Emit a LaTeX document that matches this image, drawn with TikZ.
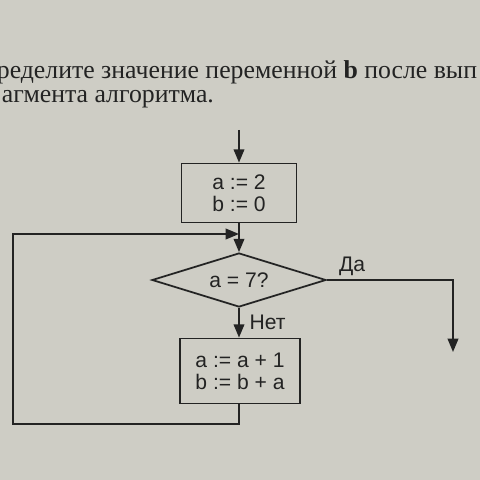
\documentclass[tikz,border=0pt]{standalone}
\usepackage{fontspec}
\setmainfont{Liberation Serif}
\newfontfamily\flowfont{Liberation Sans}
\usetikzlibrary{arrows.meta,shapes.geometric}
\definecolor{paper}{RGB}{206,205,197}
\definecolor{ink}{RGB}{35,35,35}

\begin{document}
\begin{tikzpicture}[x=0.03cm, y=-0.03cm, line width=1.5pt, color=ink,
		box/.style={draw, rectangle, align=center, inner sep=0pt,
			font=\flowfont\fontsize{18}{19}\selectfont},
		cond/.style={draw, diamond, aspect=3.2, inner sep=0pt,
			font=\flowfont\fontsize{18}{19}\selectfont},
		answer/.style={font=\flowfont\fontsize{18}{19}\selectfont},
		task/.style={anchor=base west, inner sep=0pt, font=\fontsize{22}{26}\selectfont},
		>={Triangle[length=0.4cm, width=0.32cm]}]
		\fill[paper] (0,0) rectangle (480,480);
		\clip (0,0) rectangle (480,480);
		
		\node[task] (line1) at (-4,79) {ределите значение переменной \textbf{b} после вып};
		\node[task] (line2) at (1,103) {агмента алгоритма.};
		
		\coordinate (start) at (239,130);
		\node[box, minimum width=3.45cm, minimum height=1.77cm] (init) at (239,193) {a := 2\\ b := 0};
		\node[cond, minimum width=5.22cm, minimum height=1.62cm] (check) at (239,280) {a = 7?};
		\node[box, minimum width=3.6cm, minimum height=1.95cm] (step) at (240,371) {a := a + 1\\ b := b + a};
		\coordinate (merge) at (239,234);
		\coordinate (back1) at (239,424);
		\coordinate (back2) at (13,424);
		\coordinate (back3) at (13,234);
		\coordinate (yes) at (453,280);
		\coordinate (out) at (453,352);
		
		\draw[->] (start) -- (init);
		\draw[->] (init) -- (check);
		\draw[->] (check) -- node[answer, right, xshift=5pt]{Нет} (check |- step.north); % no
		\draw[->] (check.east) -- node[answer, pos=.2, above]{Да} (yes) -- (out); % yes
		\draw[->] (step.south -| back1) -- (back1) -- (back2) -- (back3) -- (merge); % loop back
	\end{tikzpicture}
\end{document}
